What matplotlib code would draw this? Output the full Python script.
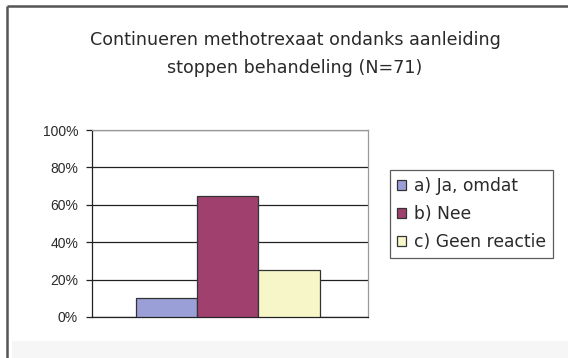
import matplotlib
matplotlib.use("Agg")
import matplotlib.pyplot as plt
from matplotlib.lines import Line2D
from matplotlib.patches import Rectangle
from matplotlib.ticker import FuncFormatter

# Answers (share of N=71 respondents, in %)
labels = ["a) Ja, omdat", "b) Nee", "c) Geen reactie"]
values = [9.9, 64.8, 25.4]
colors = ["#9a9fd8", "#a0406e", "#f6f6c8"]
yticks = [0, 20, 40, 60, 80, 100]
title = "Continueren methotrexaat ondanks aanleiding\nstoppen behandeling (N=71)"

plt.rcParams["font.family"] = ["Liberation Sans", "DejaVu Sans"]
TEXT = "#2a2a2a"
WIDE = ["DejaVu Sans"]


def main():
    fig = plt.figure(figsize=(5.68, 3.58), dpi=100)
    fig.patch.set_facecolor("white")

    # Faint grey strip along the bottom edge
    fig.add_artist(Rectangle((12 / 568, 0), 1, 17 / 358, transform=fig.transFigure,
                             facecolor="#f6f6f6", edgecolor="none", zorder=0))

    # Frame lines along the top and left of the canvas
    frame = dict(color="#555555", lw=1.8, solid_capstyle="butt")
    fig.add_artist(Line2D([6.5 / 568, 1], [1 - 5.5 / 358] * 2, transform=fig.transFigure, **frame))
    fig.add_artist(Line2D([6.5 / 568] * 2, [0, 1 - 5.5 / 358], transform=fig.transFigure, **frame))

    ax = fig.add_axes([92 / 568, 41 / 358, 276 / 568, 187 / 358])

    # One category, three series side by side
    offsets = [-1, 0, 1]
    for off, val, col, lab in zip(offsets, values, colors, labels):
        ax.bar(off, val, width=1.0, color=col, edgecolor="#333333", lw=0.9,
               label=lab, zorder=3)

    ax.set_xlim(-2.22, 2.29)
    ax.set_ylim(0, 100)
    ax.set_yticks(yticks)
    ax.yaxis.set_major_formatter(FuncFormatter(lambda v, p: f"{v:.0f}%"))
    ax.set_xticks([])
    ax.grid(axis="y", color="#222222", lw=0.9, zorder=1)
    ax.tick_params(axis="y", direction="out", length=4, width=0.9,
                   color="#222222", labelsize=10, labelcolor=TEXT, pad=6)

    for side in ["top", "right"]:
        ax.spines[side].set_color("#9a9a9a")
        ax.spines[side].set_linewidth(0.9)
    for side in ["left", "bottom"]:
        ax.spines[side].set_color("#222222")
        ax.spines[side].set_linewidth(0.9)

    fig.text(295 / 568, 1 - 54 / 358, title, ha="center", va="center",
             fontsize=12.6, color=TEXT, linespacing=1.65, family=WIDE)

    leg = fig.legend(loc="upper left", bbox_to_anchor=(390 / 568, 1 - 170 / 358),
                     frameon=True, fancybox=False,
                     prop={"family": WIDE, "size": 12.3},
                     handlelength=0.55, handleheight=0.55, handletextpad=0.45,
                     labelspacing=0.6, borderpad=0.4, borderaxespad=0)
    leg.get_frame().set_edgecolor("#333333")
    leg.get_frame().set_linewidth(0.9)
    for t in leg.get_texts():
        t.set_color(TEXT)

    fig.savefig("out.png", dpi=100)
    plt.close(fig)


if __name__ == "__main__":
    main()
